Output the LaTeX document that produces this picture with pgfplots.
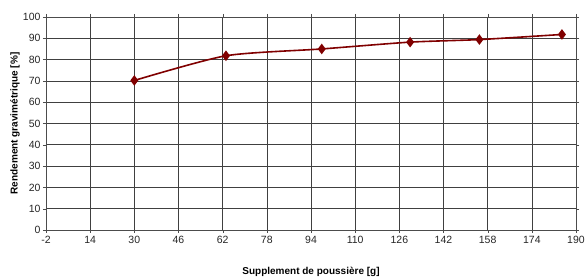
\documentclass[border=0pt]{standalone}
\usepackage{pgfplots}
\pgfplotsset{compat=1.18}
\usepackage{fontspec}
\setmainfont{Liberation Sans}
\definecolor{dred}{HTML}{800000}
\begin{document}
\begin{tikzpicture}
\begin{axis}[
  name=ax,
  scale only axis,
  width=530pt, height=213pt,
  xmin=-2, xmax=190, ymin=0, ymax=100,
  xtick={-2,14,...,190},
  ytick={0,10,...,100},
  grid=major,
  major grid style={draw=black!75, line width=0.6pt},
  axis line style={draw=black!70, line width=0.6pt},
  tick style={draw=black!70},
  tick align=outside,
  major tick length=3pt,
  tick label style={font=\fontsize{10.5}{12}\selectfont, text=black!85},
  yticklabel style={xshift=1pt},
  /pgf/number format/assume math mode=true,
  xlabel={\bfseries Supplement de poussière [g]},
  ylabel={\bfseries Rendement gravimétrique [\%]},
  label style={font=\fontsize{11}{13}\selectfont},
  every axis x label/.style={at={(axis description cs:0.5,-0.195)}, anchor=center},
  every axis y label/.style={at={(axis description cs:-0.0585,0.5)}, rotate=90, anchor=center},
]
\addplot[dred, line width=1.6pt, smooth, tension=0.4, mark=diamond*, mark size=4pt, mark options={fill=dred, draw=dred}]
  coordinates {(30,70.2) (63.2,81.8) (97.9,85.0) (129.9,88.2) (155,89.4) (184.9,91.8)};
\end{axis}
\pgfresetboundingbox
\path ([shift={(-46pt,-50pt)}]ax.south west) rectangle ([shift={(10pt,17pt)}]ax.north east);
\end{tikzpicture}
\end{document}
